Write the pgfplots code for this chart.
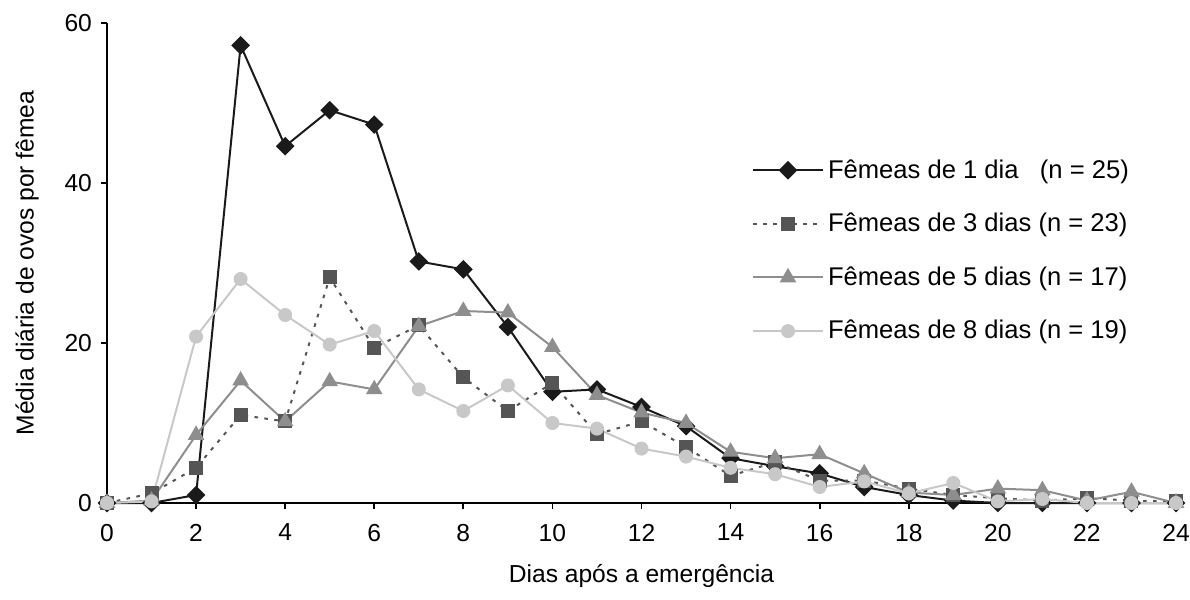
\documentclass[border=0pt]{standalone}
\usepackage{fontspec}
\setmainfont{Liberation Sans}
\usepackage{pgfplots}
\pgfplotsset{compat=1.18}
\definecolor{c1}{HTML}{1A1A1A}
\definecolor{c3}{HTML}{555555}
\definecolor{c5}{HTML}{8E8E8E}
\definecolor{c8}{HTML}{C8C8C8}

\pgfplotstableread{
d   f1    f3    f5    f8
0   0     0     0     0
1   0     1.2   0.3   0.2
2   1.0   4.4   8.5   20.8
3   57.2  11.0  15.3  28.0
4   44.6  10.2  10.2  23.5
5   49.1  28.2  15.2  19.8
6   47.3  19.4  14.2  21.5
7   30.2  22.2  22.1  14.2
8   29.2  15.7  24.0  11.5
9   22.0  11.5  23.8  14.7
10  13.9  15.0  19.5  10.0
11  14.2  8.6   13.5  9.3
12  12.0  10.2  11.3  6.8
13  9.6   7.0   10.0  5.8
14  5.6   3.4   6.4   4.4
15  4.6   5.1   5.6   3.6
16  3.7   2.8   6.1   2.0
17  2.0   2.8   3.7   2.7
18  1.0   1.8   1.3   1.2
19  0.3   1.0   1.0   2.5
20  0     0.6   1.8   0.2
21  0     0.3   1.6   0.5
22  0     0.6   0.3   0
23  0     0.3   1.4   0
24  0     0.2   0     0
}\data

\begin{document}
\begin{tikzpicture}
\begin{axis}[
  scale only axis,
  width=534.5pt, height=240pt,
  at={(0,0)}, anchor=south west,
  xmin=0, xmax=24, ymin=0, ymax=60,
  xtick={0,2,...,24}, ytick={0,20,40,60},
  axis lines=left,
  axis line style={-, line width=0.9pt, black},
  tick align=outside,
  major tick length=3pt,
  tick style={line width=0.9pt, black},
  clip=false,
  font=\fontsize{12.3pt}{14pt}\selectfont,
  /pgf/number format/assume math mode=true,
  xticklabel style={yshift=-4pt},
  yticklabel style={xshift=-1pt},
  xlabel={Dias após a emergência},
  ylabel={Média diária de ovos por fêmea},
  xlabel style={yshift=-4.5pt},
  ylabel style={yshift=6pt},
  legend cell align=left,
  legend style={draw=none, fill=none, at={(0.603,0.725)}, anchor=north west,
    font=\fontsize{12.8pt}{14pt}\selectfont, row sep=12pt, inner sep=0pt,
    /tikz/every even column/.append style={column sep=4pt}},
  legend image code/.code={
    \draw[mark repeat=2, mark phase=2] plot coordinates {(0pt,0pt) (17.5pt,0pt) (35pt,0pt)};
  },
]
\addplot[c1, line width=1pt, mark=square*, mark size=2.8pt,
  mark options={rotate=45, solid, fill=c1}] table[x=d, y=f1] {\data};
\addlegendentry{Fêmeas de 1 dia \ \ (n = 25)}
\addplot[c3, line width=1pt, dash pattern=on 1.8pt off 3.2pt, mark=square*, mark size=3pt,
  mark options={solid, fill=c3}] table[x=d, y=f3] {\data};
\addlegendentry{Fêmeas de 3 dias (n = 23)}
\addplot[c5, line width=1pt, mark=triangle*, mark size=3.8pt,
  mark options={solid, fill=c5}] table[x=d, y=f5] {\data};
\addlegendentry{Fêmeas de 5 dias (n = 17)}
\addplot[c8, line width=1pt, mark=*, mark size=3pt,
  mark options={solid, fill=c8}] table[x=d, y=f8] {\data};
\addlegendentry{Fêmeas de 8 dias (n = 19)}
\end{axis}
\pgfresetboundingbox
\path (-53.5pt,-48.5pt) rectangle (541.5pt,251.5pt);
\end{tikzpicture}
\end{document}
